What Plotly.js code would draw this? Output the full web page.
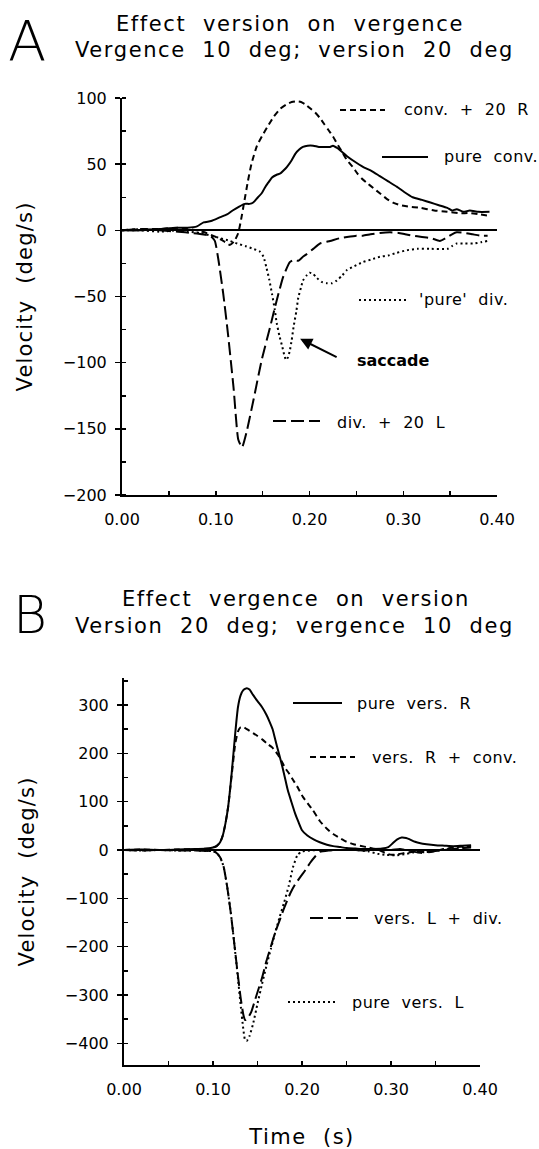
<!DOCTYPE html>
<html><head><meta charset="utf-8">
<script src="https://cdn.plot.ly/plotly-3.0.1.min.js"></script>
<style>html,body{margin:0;padding:0;background:#fff;}#chart{width:539px;height:1149px;}</style>
</head><body><div id="chart"></div>
<script>
// ---------- Panel A: effect of version on vergence ----------
const aConvR_x = [0, 0.02, 0.04, 0.06, 0.08, 0.09, 0.10, 0.108, 0.115, 0.12, 0.124, 0.127, 0.130, 0.134, 0.138, 0.144, 0.150, 0.155, 0.162, 0.169, 0.175, 0.181, 0.186, 0.191, 0.196, 0.201, 0.206, 0.211, 0.216, 0.220, 0.225, 0.229, 0.235, 0.240, 0.246, 0.251, 0.256, 0.261, 0.268, 0.275, 0.282, 0.289, 0.297, 0.305, 0.318, 0.333, 0.347, 0.360, 0.371, 0.382, 0.392];
const aConvR_y = [0, 1, 1, 2, 0, -2, -5, -8, -11, -8, -2, 8, 20, 36, 50, 64, 72, 78, 86, 92, 95, 97, 97.5, 97, 95, 92, 89, 85, 80, 76, 71, 66, 59, 53, 48, 43, 39, 36, 32, 28, 24, 21, 19, 18, 17, 15, 14, 13, 13, 12, 11];

const aPureConv_x = [0, 0.02, 0.04, 0.06, 0.07, 0.08, 0.087, 0.095, 0.105, 0.112, 0.118, 0.125, 0.131, 0.136, 0.140, 0.145, 0.149, 0.153, 0.156, 0.160, 0.165, 0.169, 0.172, 0.176, 0.181, 0.185, 0.189, 0.193, 0.198, 0.204, 0.210, 0.216, 0.222, 0.225, 0.230, 0.235, 0.240, 0.248, 0.257, 0.266, 0.275, 0.284, 0.293, 0.301, 0.310, 0.320, 0.329, 0.338, 0.347, 0.352, 0.357, 0.364, 0.371, 0.380, 0.392];
const aPureConv_y = [0, 0, 1, 2, 2, 3, 6, 7, 10, 12, 15, 18, 20, 20, 21, 25, 28, 33, 36, 40, 42, 43, 45, 48, 53, 58, 61, 63, 64, 64, 63, 63, 63, 64, 62, 59, 56, 52, 48, 45, 41, 37, 33, 29, 25, 23, 21, 19, 17, 15, 16, 14, 15, 14, 14];

const aPureDiv_x = [0, 0.02, 0.04, 0.06, 0.07, 0.083, 0.095, 0.105, 0.115, 0.123, 0.132, 0.140, 0.147, 0.151, 0.154, 0.157, 0.160, 0.163, 0.165, 0.168, 0.171, 0.173, 0.175, 0.177, 0.179, 0.181, 0.183, 0.186, 0.188, 0.191, 0.193, 0.197, 0.200, 0.204, 0.208, 0.213, 0.219, 0.224, 0.229, 0.235, 0.240, 0.248, 0.257, 0.266, 0.275, 0.284, 0.293, 0.304, 0.315, 0.330, 0.347, 0.352, 0.357, 0.366, 0.375, 0.383, 0.390];
const aPureDiv_y = [0, 0, -1, 0, -1, -2, -4, -6, -8, -10, -12, -14, -16, -20, -28, -37, -48, -60, -70, -80, -88, -94, -98, -96, -91, -83, -73, -61, -51, -43, -38, -34, -32, -33, -36, -39, -40, -40, -38, -34, -30, -27, -24, -22, -20, -19, -17, -15, -14, -14, -14, -12, -10, -10, -10, -9, -8];

const aDivL_x = [0, 0.02, 0.04, 0.06, 0.075, 0.085, 0.094, 0.099, 0.103, 0.108, 0.113, 0.119, 0.124, 0.128, 0.133, 0.140, 0.149, 0.158, 0.165, 0.172, 0.179, 0.184, 0.188, 0.193, 0.197, 0.204, 0.211, 0.222, 0.232, 0.240, 0.250, 0.257, 0.265, 0.275, 0.286, 0.295, 0.302, 0.310, 0.320, 0.330, 0.339, 0.345, 0.352, 0.357, 0.366, 0.374, 0.382, 0.390];
const aDivL_y = [0, 1, 0, -1, -2, -3, -4, -8, -23, -48, -78, -119, -158, -164, -152, -129, -98, -73, -53, -35, -24, -22, -23, -20, -18, -14, -10, -8, -6, -5, -4, -4, -3, -2, -1.5, -2, -3, -4, -5, -6, -8, -6, -3, -1.5, -2, -3, -4, -4];

// ---------- Panel B: effect of vergence on version ----------
const bPureR_x = [0, 0.02, 0.04, 0.06, 0.08, 0.095, 0.100, 0.104, 0.108, 0.111, 0.114, 0.117, 0.121, 0.125, 0.128, 0.131, 0.134, 0.138, 0.141, 0.145, 0.150, 0.155, 0.160, 0.163, 0.167, 0.170, 0.174, 0.178, 0.181, 0.184, 0.188, 0.192, 0.196, 0.200, 0.206, 0.213, 0.220, 0.228, 0.235, 0.243, 0.250, 0.260, 0.270, 0.280, 0.290, 0.297, 0.302, 0.307, 0.312, 0.317, 0.321, 0.327, 0.333, 0.340, 0.350, 0.360, 0.370, 0.380, 0.390];
const bPureR_y = [0, 1, 0, 1, 2, 3, 5, 8, 16, 30, 55, 89, 159, 242, 295, 320, 331, 335, 332, 321, 308, 296, 280, 268, 250, 228, 200, 172, 148, 124, 100, 77, 58, 41, 30, 22, 16, 11, 8, 6, 4, 3, 2, 2, 3, 6, 14, 22, 26, 25, 22, 17, 14, 12, 10, 9, 8, 9, 10];

const bRConv_x = [0, 0.02, 0.04, 0.06, 0.08, 0.095, 0.100, 0.104, 0.108, 0.111, 0.114, 0.117, 0.121, 0.125, 0.128, 0.131, 0.134, 0.138, 0.145, 0.150, 0.156, 0.161, 0.166, 0.170, 0.173, 0.177, 0.181, 0.186, 0.190, 0.196, 0.201, 0.207, 0.212, 0.220, 0.228, 0.235, 0.243, 0.250, 0.258, 0.265, 0.275, 0.285, 0.291, 0.296, 0.301, 0.307, 0.313, 0.320, 0.330, 0.340, 0.350, 0.360, 0.370, 0.380, 0.390];
const bRConv_y = [0, 1, 0, 1, 2, 3, 5, 8, 16, 30, 55, 89, 155, 220, 245, 254, 255, 250, 242, 236, 228, 220, 213, 205, 197, 184, 170, 157, 145, 127, 110, 95, 83, 60, 44, 33, 24, 17, 12, 9, 5, 1, -4, -8, -10, -9, -7, -5, -3, -5, -2, 2, 5, 7, 8];

const bLDiv_x = [0, 0.02, 0.04, 0.06, 0.08, 0.095, 0.100, 0.104, 0.108, 0.112, 0.116, 0.120, 0.124, 0.128, 0.131, 0.134, 0.136, 0.139, 0.143, 0.149, 0.155, 0.160, 0.165, 0.170, 0.175, 0.180, 0.187, 0.192, 0.198, 0.204, 0.209, 0.215, 0.220, 0.230, 0.240, 0.250, 0.260, 0.270, 0.280, 0.290, 0.300, 0.310, 0.320, 0.330, 0.335, 0.340, 0.350, 0.360, 0.370, 0.380, 0.390];
const bLDiv_y = [0, -1, 0, -1, -1, -2, -2, -6, -15, -35, -77, -130, -195, -260, -305, -340, -352, -348, -335, -300, -265, -230, -200, -170, -145, -120, -89, -72, -56, -41, -27, -13, -4, -1, 0, 0, 0, -1, 0, 1, 0, 2, -1, -5, -6, -4, -2, 0, 2, 4, 5];

const bPureL_x = [0, 0.02, 0.04, 0.06, 0.08, 0.095, 0.100, 0.104, 0.108, 0.112, 0.116, 0.120, 0.124, 0.128, 0.131, 0.134, 0.136, 0.138, 0.141, 0.145, 0.150, 0.155, 0.160, 0.165, 0.170, 0.175, 0.180, 0.185, 0.190, 0.195, 0.200, 0.210, 0.220, 0.240, 0.260, 0.275, 0.285, 0.295, 0.305, 0.315, 0.325, 0.335, 0.345, 0.355, 0.365, 0.375, 0.385, 0.390];
const bPureL_y = [0, -1, 0, -1, -1, -2, -2, -6, -15, -35, -77, -130, -195, -265, -320, -370, -393, -395, -385, -360, -318, -278, -240, -205, -170, -138, -108, -75, -35, -10, -3, -1, 0, 0, 0, -3, -8, -10, -11, -9, -5, -3, -2, 0, 2, 4, 6, 7];

// ---------- Text ----------
const titleA = ["Effect  version  on  vergence", "Vergence  10  deg;  version  20  deg"];
const titleB = ["Effect  vergence  on  version", "Version  20  deg;  vergence  10  deg"];
const yTitle = "Velocity  (deg/s)";
const xTitle = "Time  (s)";
const legendA = ["conv.  +  20  R", "pure  conv.", "'pure'  div.", "div.  +  20  L"];
const legendB = ["pure  vers.  R", "vers.  R  +  conv.", "vers.  L  +  div.", "pure  vers.  L"];
const arrowLabel = "saccade";

// ---------- Layout helpers ----------
const W = 539, H = 1149;
const PX = x => x / W, PY = y => 1 - y / H;
const FONT = "DejaVu Sans, Arial, sans-serif";
const DASH = {solid: "solid", short: "6px,4px", long: "13px,5px", dot: "2px,3px"};
const sp = (s, ls) => '<span style="letter-spacing:' + ls + 'px">' + s + '</span>';

function tr(x, y, dash, xa, ya) {
  return {x: x, y: y, xaxis: xa, yaxis: ya, mode: "lines", hoverinfo: "skip", showlegend: false,
          line: {color: "black", width: 2, dash: DASH[dash], shape: "spline", smoothing: 0.5}};
}
const data = [
  tr(aConvR_x, aConvR_y, "short", "x", "y"),
  tr(aPureConv_x, aPureConv_y, "solid", "x", "y"),
  tr(aPureDiv_x, aPureDiv_y, "dot", "x", "y"),
  tr(aDivL_x, aDivL_y, "long", "x", "y"),
  tr(bPureR_x, bPureR_y, "solid", "x2", "y2"),
  tr(bRConv_x, bRConv_y, "short", "x2", "y2"),
  tr(bLDiv_x, bLDiv_y, "long", "x2", "y2"),
  tr(bPureL_x, bPureL_y, "dot", "x2", "y2")
];

function xax(dom, anchor, title) {
  const a = {domain: dom, anchor: anchor, range: [0, 0.4], tick0: 0, dtick: 0.1, tickformat: ".2f",
    showline: true, linecolor: "black", linewidth: 2, ticks: "inside", ticklen: 4, tickwidth: 1.5, tickcolor: "black",
    minor: {dtick: 0.05, ticks: "inside", ticklen: 4, tickwidth: 1.5, tickcolor: "black", showgrid: false},
    showgrid: false, zeroline: false, ticklabelstandoff: 9,
    tickfont: {family: FONT, size: 16, color: "black"}, fixedrange: true};
  if (title) a.title = {text: sp(title, 1.5), font: {family: FONT, size: 21, color: "black"}, standoff: 31};
  return a;
}
function yax(dom, anchor, range, dt) {
  return {domain: dom, anchor: anchor, range: range, dtick: dt, tick0: 0,
    showline: true, linecolor: "black", linewidth: 2, ticks: "outside", ticklen: 5, tickwidth: 1.5, tickcolor: "black",
    minor: {dtick: dt / 2, ticks: "inside", ticklen: 4, tickwidth: 1.5, tickcolor: "black", showgrid: false},
    showgrid: false, zeroline: true, zerolinecolor: "black", zerolinewidth: 2, ticklabelstandoff: 5,
    tickfont: {family: FONT, size: 16, color: "black"}, fixedrange: true,
    title: {text: sp(yTitle, 1.2), font: {family: FONT, size: 21, color: "black"}, standoff: 24}};
}

function txt(x, y, s, size, anchor, extra) {
  return Object.assign({xref: "paper", yref: "paper", x: PX(x), y: PY(y), text: s, showarrow: false,
    xanchor: anchor || "left", yanchor: "middle", font: {family: FONT, size: size, color: "black"}}, extra || {});
}
function sample(x0, x1, y, dash) {
  return {type: "line", xref: "paper", yref: "paper", x0: PX(x0), x1: PX(x1), y0: PY(y), y1: PY(y),
          line: {color: "black", width: 2, dash: DASH[dash]}};
}

const annotations = [
  txt(27, 40, "A", 56, "center", {font: {family: FONT, size: 56, color: "black", weight: 200}}),
  txt(290, 24, sp(titleA[0], 1.6), 21, "center"),
  txt(294, 50, sp(titleA[1], 1.6), 21, "center"),
  txt(30, 615, "B", 52, "center", {font: {family: FONT, size: 52, color: "black", weight: 200}}),
  txt(296, 599, sp(titleB[0], 1.6), 21, "center"),
  txt(294, 626, sp(titleB[1], 1.6), 21, "center"),
  txt(402, 110, sp(legendA[0], 0.5), 16),
  txt(442, 157, sp(legendA[1], 0.5), 16),
  txt(417, 299, sp(legendA[2], 0.5), 16),
  txt(335, 422, sp(legendA[3], 0.5), 16),
  txt(355, 360, arrowLabel, 16, "left", {font: {family: FONT, size: 16, color: "black", weight: "bold"}}),
  {xref: "x", yref: "y", x: 0.190, y: -82, ax: 38, ay: 19, axref: "pixel", ayref: "pixel", text: "", showarrow: true,
   arrowhead: 2, arrowsize: 1.2, arrowwidth: 2, arrowcolor: "black"},
  txt(355, 703, sp(legendB[0], 0.5), 16),
  txt(370, 757, sp(legendB[1], 0.5), 16),
  txt(372, 918, sp(legendB[2], 0.5), 16),
  txt(350, 1002, sp(legendB[3], 0.5), 16)
];
const shapes = [
  sample(340, 385, 110, "short"),
  sample(382, 428, 157, "solid"),
  sample(359, 407, 300, "dot"),
  sample(273, 320, 421, "long"),
  sample(293, 342, 703, "solid"),
  sample(310, 355, 757, "short"),
  sample(310, 358, 918, "long"),
  sample(288, 335, 1002, "dot")
];

const layout = {
  width: W, height: H, margin: {l: 0, r: 0, t: 0, b: 0}, paper_bgcolor: "white", plot_bgcolor: "white",
  showlegend: false, font: {family: FONT, color: "black"},
  xaxis: xax([PX(122), PX(497)], "y", null),
  yaxis: yax([PY(495), PY(98)], "x", [-200, 100], 50),
  xaxis2: xax([PX(124), PX(480)], "y2", xTitle),
  yaxis2: yax([PY(1065), PY(678)], "x2", [-445, 356], 100),
  annotations: annotations, shapes: shapes
};
Plotly.newPlot("chart", data, layout, {staticPlot: true, displayModeBar: false});
</script></body></html>
